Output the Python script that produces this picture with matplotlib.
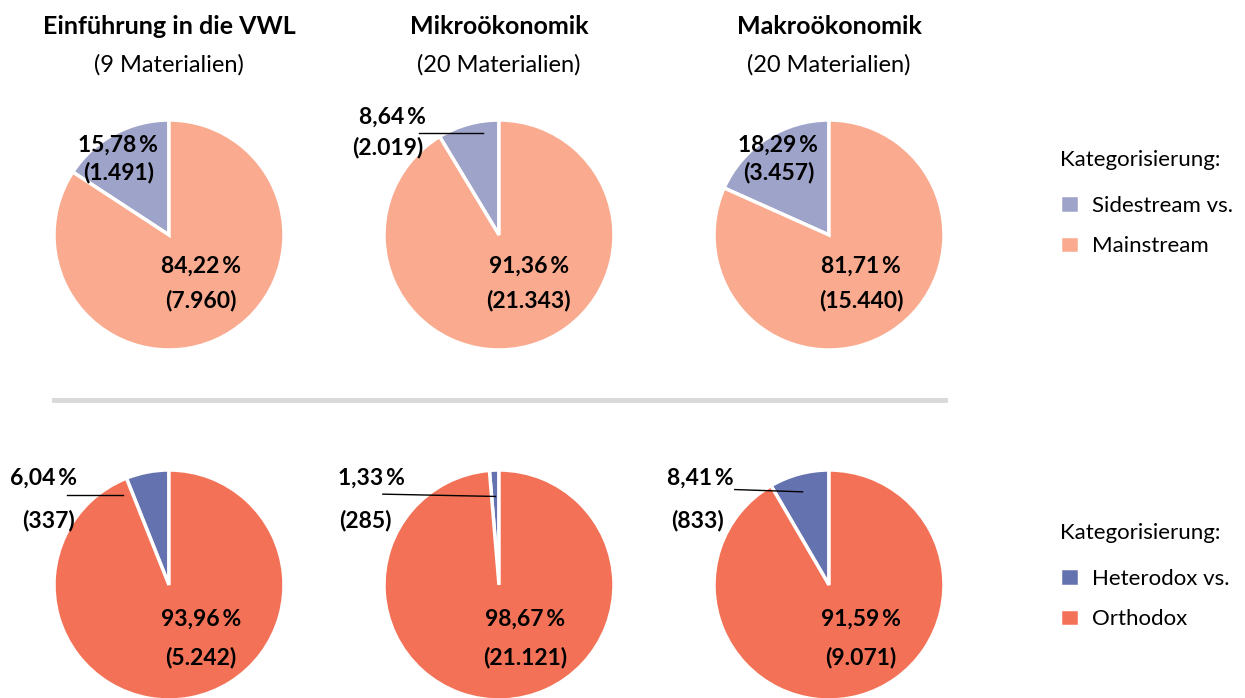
import matplotlib
matplotlib.use("Agg")
import matplotlib.pyplot as plt
from matplotlib.lines import Line2D

plt.rcParams['font.family'] = ['Lato', 'DejaVu Sans']

# data
kurse = ["Einführung in die VWL", "Mikroökonomik", "Makroökonomik"]
materialien = [9, 20, 20]
sidestream = [1491, 2019, 3457]
mainstream = [7960, 21343, 15440]
heterodox = [337, 285, 833]
orthodox = [5242, 21121, 9071]

farben_oben = ["#9ea3c9", "#f9aa8f"]
farben_unten = ["#6473b0", "#f37257"]

W, H = 1245, 698
R = 115
cx_list = [169, 499, 829]
cy_oben, cy_unten = 235, 585

# label positions in pie units (small slice: pct, count, leader line or None; big slice)
lab_oben = [
    ((-0.44, 0.78), (-0.44, 0.54), None, (0.28, -0.27), (0.28, -0.57)),
    ((-0.93, 1.02), (-0.97, 0.76), ((-0.70, -0.14), (0.89, 0.89)), (0.26, -0.27), (0.26, -0.57)),
    ((-0.44, 0.78), (-0.44, 0.54), None, (0.28, -0.27), (0.28, -0.57)),
]
lab_unten = [
    ((-1.09, 0.93), (-1.05, 0.56), ((-0.89, -0.40), (0.78, 0.78)), (0.28, -0.30), (0.28, -0.63)),
    ((-1.11, 0.93), (-1.16, 0.56), ((-1.01, -0.03), (0.79, 0.77)), (0.23, -0.30), (0.23, -0.63)),
    ((-1.12, 0.93), (-1.14, 0.56), ((-0.82, -0.23), (0.83, 0.81)), (0.28, -0.30), (0.28, -0.63)),
]


def de_zahl(n):
    return f"{n:,}".replace(",", ".")


def de_pct(p):
    return f"{p:.2f}".replace(".", ",") + "\u2009%"


fig = plt.figure(figsize=(W / 100, H / 100), dpi=100)


def pie_axes(cx, cy):
    return fig.add_axes([(cx - R) / W, (H - cy - R) / H, 2 * R / W, 2 * R / H])


def zeichne(ax, klein, gross, farben, lab):
    wedges, _ = ax.pie([klein, gross], colors=farben, startangle=90, counterclock=True,
                       wedgeprops=dict(edgecolor="white", linewidth=2.5))
    ax.set_xlim(-1, 1)
    ax.set_ylim(-1, 1)
    ax.axis("off")
    summe = klein + gross
    p1, c1, linie, p2, c2 = lab
    kw = dict(ha="center", va="center", fontsize=16.5, fontweight="bold", color="black")
    ax.text(*p1, de_pct(100 * klein / summe), **kw)
    ax.text(*c1, f"({de_zahl(klein)})", **kw)
    ax.text(*p2, de_pct(100 * gross / summe), **kw)
    ax.text(*c2, f"({de_zahl(gross)})", **kw)
    if linie is not None:
        ax.plot(linie[0], linie[1], color="black", lw=1, clip_on=False)
    return wedges


for i, cx in enumerate(cx_list):
    ax = pie_axes(cx, cy_oben)
    w_oben = zeichne(ax, sidestream[i], mainstream[i], farben_oben, lab_oben[i])
    ax.text(0, 1.81, kurse[i], ha="center", va="center", fontsize=18, fontweight="bold")
    ax.text(0, 1.48, f"({materialien[i]} Materialien)", ha="center", va="center", fontsize=17)

    ax2 = pie_axes(cx, cy_unten)
    w_unten = zeichne(ax2, heterodox[i], orthodox[i], farben_unten, lab_unten[i])

# separator
fig.add_artist(Line2D([54 / W, 945 / W], [1 - 400 / H, 1 - 400 / H],
                      color="#d9d9d9", lw=3.5, transform=fig.transFigure))

leg_kw = dict(frameon=False, fontsize=16, title_fontsize=16, alignment="left",
              handlelength=0.85, handleheight=0.85, handletextpad=0.6, labelspacing=0.9,
              borderaxespad=0, borderpad=0)
leg1 = fig.legend(w_oben, ["Sidestream vs.", "Mainstream"], title="Kategorisierung:",
                  loc="upper left", bbox_to_anchor=(1060 / W, 1 - 150 / H), **leg_kw)
leg2 = fig.legend(w_unten, ["Heterodox vs.", "Orthodox"], title="Kategorisierung:",
                  loc="upper left", bbox_to_anchor=(1060 / W, 1 - 523 / H), **leg_kw)
for leg in (leg1, leg2):
    leg._legend_box.sep = 18

fig.savefig("out.png", dpi=100, facecolor="white")
